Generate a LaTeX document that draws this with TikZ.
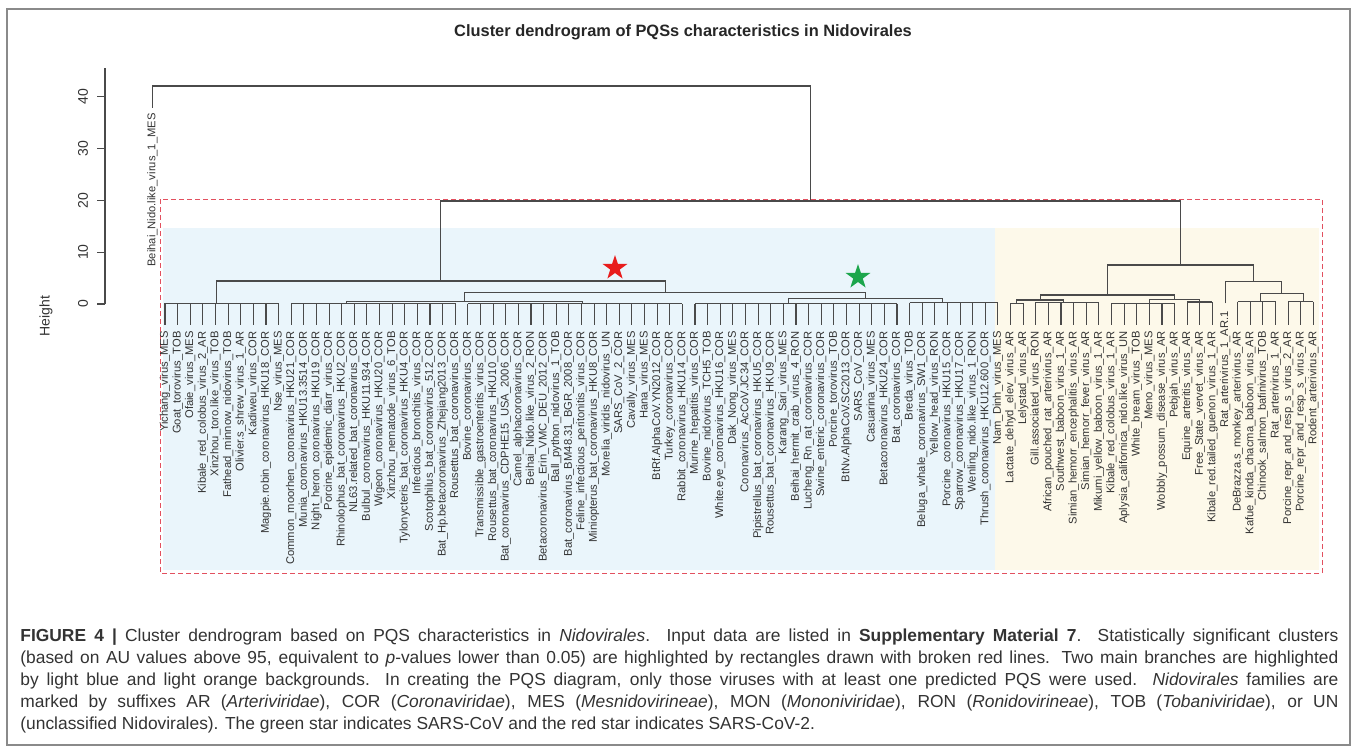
\documentclass[tikz,border=0pt]{standalone}
\usepackage{fontspec}
\setmainfont{Liberation Sans}
\usepackage{tikz}
\usetikzlibrary{shapes.geometric}

\definecolor{treegray}{HTML}{4A4A4A}
\definecolor{labgray}{HTML}{333333}
\definecolor{bluebg}{HTML}{EAF5FB}
\definecolor{orangebg}{HTML}{FDF9EA}
\definecolor{rectred}{HTML}{E2505F}
\definecolor{starred}{HTML}{E81C1C}
\definecolor{stargreen}{HTML}{1CA64C}
\definecolor{framegray}{HTML}{8A8A8A}
\definecolor{captext}{HTML}{333333}

% x position (px) of leaf number #1
\newcommand{\leafx}[1]{165+(#1-1)*12.62}
% full-width caption line
\newcommand{\capfull}[1]{\makebox[659pt][s]{#1}}

\begin{document}
\begin{tikzpicture}[x=0.5pt, y=-0.5pt,
  branch/.style={draw=treegray, line width=0.55pt},
  leaflab/.style={rotate=90, anchor=east, inner sep=0pt, text=labgray, font=\fontsize{5.6}{6.5}\selectfont},
  ticklab/.style={rotate=90, inner sep=0pt, text=labgray, font=\fontsize{7}{8}\selectfont},
  capline/.style={anchor=west, inner sep=0pt, text=captext, font=\fontsize{8.7}{11}\selectfont}]
  \useasboundingbox (0,0) rectangle (1357,746);
  \draw[framegray, line width=0.9pt] (7,9) rectangle (1350,745);

  % backgrounds and cluster box
  \fill[bluebg]   (163,228) rectangle (995,570);
  \fill[orangebg] (995,228) rectangle (1319,570);
  \draw[rectred, line width=0.5pt, dash pattern=on 2.5pt off 1.5pt] (160,199) rectangle (1322,573);

  \node[font=\bfseries\fontsize{8.2}{9}\selectfont, text=black!85] (title) at (683,32) {Cluster dendrogram of PQSs characteristics in Nidovirales};

  % height axis
  \draw[treegray, line width=0.55pt] (105,68) -- (105,304);
  \foreach \v in {0,10,20,30,40} {
    \draw[treegray, line width=0.55pt] (105,{304-5.18*\v}) -- (97,{304-5.18*\v});
    \node[ticklab] at (83,{304-5.18*\v}) {\v};
  }
  \node[ticklab] (ylab) at (46,316) {Height};

  % leaf groups: first/last/bracket y/node/name
  \foreach \a/\b/\h/\m/\g in {1/10/303.3/5.1/A, 11/24/303.3/15.4/D, 25/42/303.8/34.1/E,
      43/59/303.5/50.4/G, 60/67/302.5/62.6/H, 68/69/303.3/68.5/Ra, 70/75/302.3/72.2/Rb,
      76/81/303.3/79/Rc, 82/84/302/83/Rd, 86/89/301.5/87.8/Re, 90/92/301.7/91.2/Rf} {
    \draw[branch] ({\leafx{\a}},\h) -- ({\leafx{\b}},\h);
    \foreach \i in {\a,...,\b}
      \draw[branch] ({\leafx{\i}},\h) -- ({\leafx{\i}},325);
    \coordinate (\g) at ({\leafx{\m}},\h);
  }
  \coordinate (r85) at ({\leafx{85}},303.4);
  \coordinate (og)  at ({\leafx{0}},107.7);

  % merges
  \coordinate (C)    at ({\leafx{24.75}},301.5);
  \coordinate (F)    at ({\leafx{56.5}},298.3);
  \coordinate (B)    at ({\leafx{40.625}},292.3);
  \coordinate (L)    at ({\leafx{22.86}},281);
  \coordinate (R1a)  at ({\leafx{70.35}},300);
  \coordinate (R1b)  at ({\leafx{81}},299.3);
  \coordinate (R1)   at ({\leafx{75.675}},295);
  \coordinate (R2b)  at ({\leafx{89.5}},293.3);
  \coordinate (R2)   at ({\leafx{87.25}},281.7);
  \coordinate (R)    at ({\leafx{81.46}},265);
  \coordinate (main) at ({\leafx{52.16}},201);
  \coordinate (root) at ({\leafx{26.08}},86);

  \draw[branch] (D) |- (C) -| (E);
  \draw[branch] (G) |- (F) -| (H);
  \draw[branch] (C) |- (B) -| (F);
  \draw[branch] (A) |- (L) -| (B);
  \draw[branch] (Ra) |- (R1a) -| (Rb);
  \draw[branch] (Rc) |- (R1b) -| (Rd);
  \draw[branch] (R1a) |- (R1) -| (R1b);
  \draw[branch] (Re) |- (R2b) -| (Rf);
  \draw[branch] (r85) |- (R2) -| (R2b);
  \draw[branch] (R1) |- (R) -| (R2);
  \draw[branch] (L) |- (main) -| (R);
  \draw[branch] (og) |- (root) -| (main);

  % leaf labels
  \node[leaflab] (lab0) at ({\leafx{0}},113) {Beihai\_Nido.like\_virus\_1\_MES};
  \node[leaflab] (lab85) at ({\leafx{85}},311) {Rat\_arterivirus\_1\_AR.1};
  \foreach \i/\t in {1/Yichang\_virus\_MES, 2/Goat\_torovirus\_TOB, 3/Ofaie\_virus\_MES,
      4/Kibale\_red\_colobus\_virus\_2\_AR, 5/Xinzhou\_toro.like\_virus\_TOB,
      6/Fathead\_minnow\_nidovirus\_TOB, 7/Olivier.s\_shrew\_virus\_1\_AR, 8/Kadiweu\_virus\_COR,
      9/Magpie.robin\_coronavirus\_HKU18\_COR, 10/Nse\_virus\_MES,
      11/Common\_moorhen\_coronavirus\_HKU21\_COR, 12/Munia\_coronavirus\_HKU13.3514\_COR,
      13/Night\_heron\_coronavirus\_HKU19\_COR, 14/Porcine\_epidemic\_diarr\_virus\_COR,
      15/Rhinolophus\_bat\_coronavirus\_HKU2\_COR, 16/NL63.related\_bat\_coronavirus\_COR,
      17/Bulbul\_coronavirus\_HKU11.934\_COR, 18/Wigeon\_coronavirus\_HKU20\_COR,
      19/Xinzhou\_nematode\_virus\_6\_TOB, 20/Tylonycteris\_bat\_coronavirus\_HKU4\_COR,
      21/Infectious\_bronchitis\_virus\_COR, 22/Scotophilus\_bat\_coronavirus\_512\_COR,
      23/Bat\_Hp.betacoronavirus\_Zhejiang2013\_COR, 24/Rousettus\_bat\_coronavirus\_COR,
      25/Bovine\_coronavirus\_COR, 26/Transmissible\_gastroenteritis\_virus\_COR,
      27/Rousettus\_bat\_coronavirus\_HKU10\_COR, 28/Bat\_coronavirus\_CDPHE15\_USA\_2006\_COR,
      29/Camel\_alphacoronavirus\_COR, 30/Beihai\_Nido.like\_virus\_2\_RON,
      31/Betacoronavirus\_Erin\_VMC\_DEU\_2012\_COR, 32/Ball\_python\_nidovirus\_1\_TOB,
      33/Bat\_coronavirus\_BM48.31\_BGR\_2008\_COR, 34/Feline\_infectious\_peritonitis\_virus\_COR,
      35/Miniopterus\_bat\_coronavirus\_HKU8\_COR, 36/Morelia\_viridis\_nidovirus\_UN,
      37/SARS\_CoV\_2\_COR, 38/Cavally\_virus\_MES, 39/Hana\_virus\_MES,
      40/BtRf.AlphaCoV.YN2012\_COR, 41/Turkey\_coronavirus\_COR,
      42/Rabbit\_coronavirus\_HKU14\_COR, 43/Murine\_hepatitis\_virus\_COR,
      44/Bovine\_nidovirus\_TCH5\_TOB, 45/White.eye\_coronavirus\_HKU16\_COR,
      46/Dak\_Nong\_virus\_MES, 47/Coronavirus\_AcCoV.JC34\_COR,
      48/Pipistrellus\_bat\_coronavirus\_HKU5\_COR, 49/Rousettus\_bat\_coronavirus\_HKU9\_COR,
      50/Karang\_Sari\_virus\_MES, 51/Beihai\_hermit\_crab\_virus\_4\_RON,
      52/Lucheng\_Rn\_rat\_coronavirus\_COR, 53/Swine\_enteric\_coronavirus\_COR,
      54/Porcine\_torovirus\_TOB, 55/BtNv.AlphaCoV.SC2013\_COR, 56/SARS\_CoV\_COR,
      57/Casuarina\_virus\_MES, 58/Betacoronavirus\_HKU24\_COR, 59/Bat\_coronavirus\_COR,
      60/Breda\_virus\_TOB, 61/Beluga\_whale\_coronavirus\_SW1\_COR, 62/Yellow\_head\_virus\_RON,
      63/Porcine\_coronavirus\_HKU15\_COR, 64/Sparrow\_coronavirus\_HKU17\_COR,
      65/Wenling\_nido.like\_virus\_1\_RON, 66/Thrush\_coronavirus\_HKU12.600\_COR,
      67/Nam\_Dinh\_virus\_MES, 68/Lactate\_dehyd\_elev\_virus\_AR, 69/Lelystad\_virus\_AR,
      70/Gill.associated\_virus\_RON, 71/African\_pouched\_rat\_arterivirus\_AR,
      72/Southwest\_baboon\_virus\_1\_AR, 73/Simian\_hemorr\_encephalitis\_virus\_AR,
      74/Simian\_hemorr\_fever\_virus\_AR, 75/Mikumi\_yellow\_baboon\_virus\_1\_AR,
      76/Kibale\_red\_colobus\_virus\_1\_AR, 77/Aplysia\_californica\_nido.like\_virus\_UN,
      78/White\_bream\_virus\_TOB, 79/Meno\_virus\_MES, 80/Wobbly\_possum\_disease\_virus\_AR,
      81/Pebjah\_virus\_AR, 82/Equine\_arteritis\_virus\_AR, 83/Free\_State\_vervet\_virus\_AR,
      84/Kibale\_red.tailed\_guenon\_virus\_1\_AR, 86/DeBrazza.s\_monkey\_arterivirus\_AR,
      87/Kafue\_kinda\_chacma\_baboon\_virus\_AR, 88/Chinook\_salmon\_bafinivirus\_TOB,
      89/Rat\_arterivirus\_1\_AR, 90/Porcine\_repr\_and\_resp\_s\_virus\_2\_AR,
      91/Porcine\_repr\_and\_resp\_s\_virus\_AR, 92/Rodent\_arterivirus\_AR}
    \node[leaflab] (lab\i) at ({\leafx{\i}},331) {\t};

  % stars
  \node[star, star points=5, star point ratio=2.6, fill=starred, inner sep=0pt, minimum size=13pt] (cov2) at (615,268) {};
  \node[star, star points=5, star point ratio=2.6, fill=stargreen, inner sep=0pt, minimum size=13pt] (cov1) at (858,277) {};

  % caption
  \node[capline] (cap1) at (20,637) {\capfull{\textbf{FIGURE 4 |} Cluster dendrogram based on PQS characteristics in \textit{Nidovirales}. Input data are listed in \textbf{Supplementary Material 7}. Statistically significant clusters}};
  \node[capline] (cap2) at (20,659) {\capfull{(based on AU values above 95, equivalent to \textit{p}-values lower than 0.05) are highlighted by rectangles drawn with broken red lines. Two main branches are highlighted}};
  \node[capline] (cap3) at (20,681) {\capfull{by light blue and light orange backgrounds. In creating the PQS diagram, only those viruses with at least one predicted PQS were used. \textit{Nidovirales} families are}};
  \node[capline] (cap4) at (20,703) {\capfull{marked by suffixes AR (\textit{Arteriviridae}), COR (\textit{Coronaviridae}), MES (\textit{Mesnidovirineae}), MON (\textit{Mononiviridae}), RON (\textit{Ronidovirineae}), TOB (\textit{Tobaniviridae}), or UN}};
  \node[capline] (cap5) at (20,725) {(unclassified Nidovirales). The green star indicates SARS-CoV and the red star indicates SARS-CoV-2.};
\end{tikzpicture}
\end{document}
